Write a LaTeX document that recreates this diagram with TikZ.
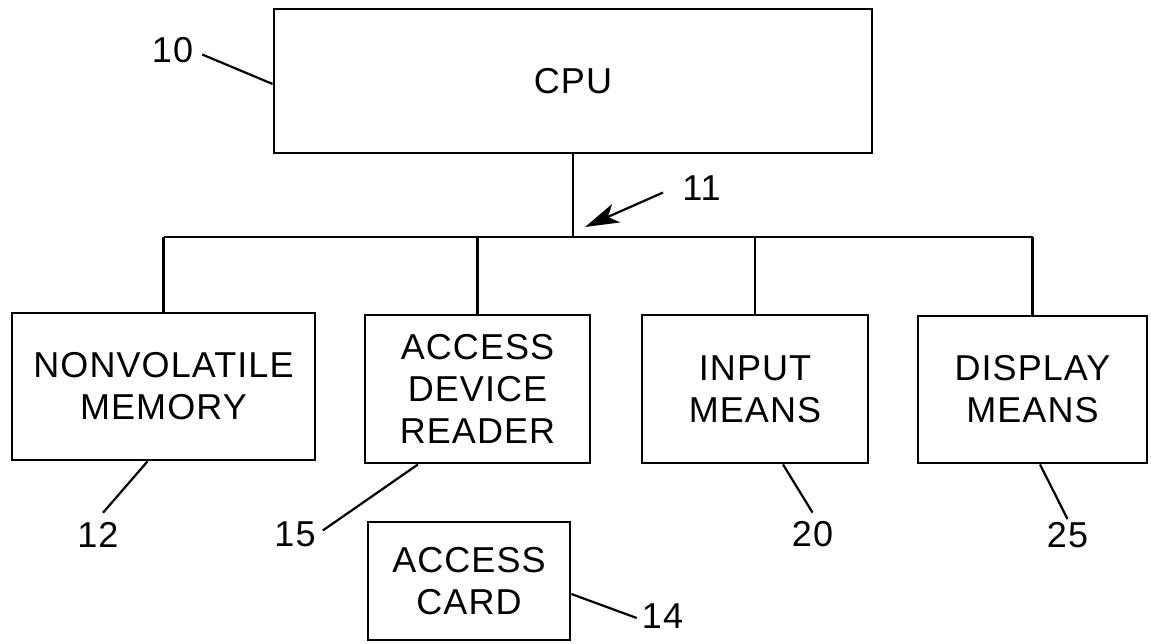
\documentclass[tikz,border=0pt]{standalone}
\usepackage{fontspec}
\setmainfont{Liberation Sans}[LetterSpace=3]
\usetikzlibrary{arrows.meta,calc}
\begin{document}
\begin{tikzpicture}[x=1pt,y=-1pt,
  box/.style={draw,line width=2.8pt,inner sep=0pt,align=center,
    font=\fontsize{36}{42}\selectfont},
  refnum/.style={inner sep=0pt,font=\fontsize{36}{42}\selectfont},
  lead/.style={line width=2.2pt},
  wire/.style={line width=2.6pt}]
\useasboundingbox (0,0) rectangle (1151,643);

% blocks
\node[box,minimum width=598pt,minimum height=144pt] (cpu) at (573,81) {CPU};
\node[box,minimum width=303pt,minimum height=147pt] (mem) at (163.5,386.5) {NONVOLATILE\\MEMORY};
\node[box,minimum width=225pt,minimum height=148pt] (reader) at (477.5,389) {ACCESS\\DEVICE\\READER};
\node[box,minimum width=226pt,minimum height=148pt] (input) at (755,389) {INPUT\\MEANS};
\node[box,minimum width=229pt,minimum height=147pt] (display) at (1032.5,389.5) {DISPLAY\\MEANS};
\node[box,minimum width=202pt,minimum height=118pt] (card) at (469,581) {ACCESS\\CARD};

% bus
\coordinate (bus) at (573,237);
\draw[wire] (cpu.south) -- (bus);
\draw[wire] (mem.north |- bus) -- (display.north |- bus);
\draw[wire] (mem.north |- bus) -- (mem.north);
\draw[wire] (reader.north |- bus) -- (reader.north);
\draw[wire] (input.north |- bus) -- (input.north);
\draw[wire] (display.north |- bus) -- (display.north);

% reference numerals
\node[refnum] (l10) at (172.5,50.5) {10};
\node[refnum] (l11) at (701.5,188.5) {11};
\node[refnum] (l12) at (98,534.5) {12};
\node[refnum] (l15) at (295,534.5) {15};
\node[refnum] (l20) at (812.5,534.5) {20};
\node[refnum] (l25) at (1067.5,535) {25};
\node[refnum] (l14) at (662.5,616.5) {14};

% leader lines
\draw[lead] ([shift={(9,4)}]l10.east) -- ([yshift=-3pt]cpu.west);
\coordinate (a11) at (585,227);
\draw[lead,-{Stealth[length=34pt,width=20pt,inset=9pt]}] ([shift={(-19,4)}]l11.west) -- (a11);
\draw[lead] ([shift={(5,-9)}]l12.north) -- ([xshift=-16pt]mem.south);
\draw[lead] ([shift={(7,-4)}]l15.east) -- ([xshift=-59.5pt]reader.south);
\draw[lead] ([shift={(0,-9)}]l20.north) -- ([xshift=28pt]input.south);
\draw[lead] ([shift={(0,-3)}]l25.north) -- ([xshift=7.5pt]display.south);
\draw[lead] ([yshift=-13pt]card.east) -- ([shift={(-5,1.5)}]l14.west);
\end{tikzpicture}
\end{document}
